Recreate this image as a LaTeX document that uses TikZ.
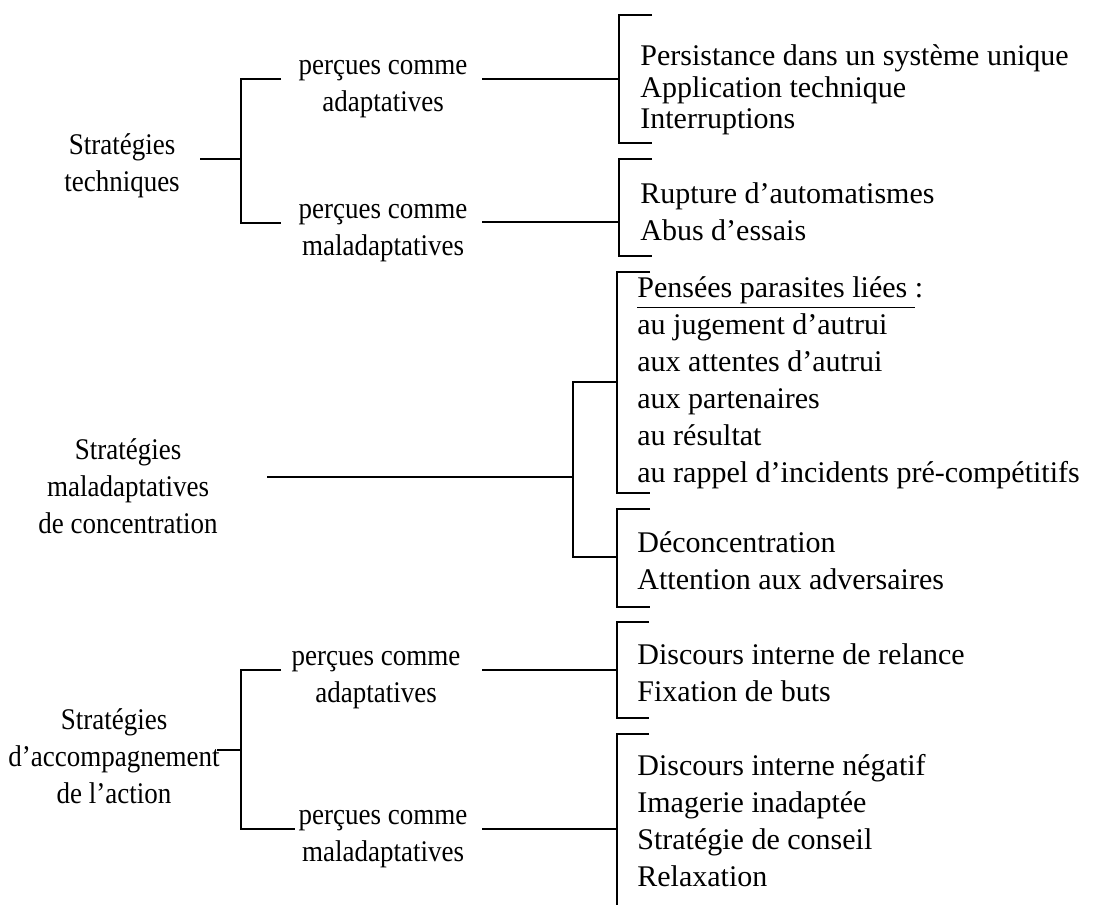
\documentclass[tikz,border=0pt]{standalone}
\usepackage{fontspec}
\setmainfont{Liberation Serif}
\newfontfamily\lblfont{Liberation Serif}[FakeStretch=0.9]

\tikzset{
  ln/.style={line width=0.9pt},
  lbl/.style={align=center, inner sep=0pt, font=\lblfont\fontsize{15}{18.5}\selectfont},
  lst/.style={align=left, anchor=west, inner sep=0pt, font=\fontsize{15}{18.5}\selectfont},
}

\begin{document}
\begin{tikzpicture}[x=0.5pt, y=-0.5pt]
  \useasboundingbox (0,0) rectangle (1106,905);

  % left column
  \node[lbl] (tech) at (122,166) {Stratégies\\techniques};
  \node[lbl] (conc) at (128,486) {Stratégies\\maladaptatives\\de concentration};
  \node[lbl] (accomp) at (114,756) {Stratégies\\d’accompagnement\\de l’action};

  % middle column
  \node[lbl] (techA) at (383,89) {perçues comme\\adaptatives};
  \node[lbl] (techM) at (383,233) {perçues comme\\maladaptatives};
  \node[lbl] (accA) at (376,680) {perçues comme\\adaptatives};
  \node[lbl] (accM) at (383,839) {perçues comme\\maladaptatives};

  % lists
  \node[lst, font=\fontsize{15}{15.75}\selectfont] (lTechA) at (640,90)
    {Persistance dans un système unique\\Application technique\\Interruptions};
  \node[lst] (lTechM) at (640,212) {Rupture d’automatismes\\Abus d’essais};
  \node[lst] (lPens) at (637,383)
    {\underline{Pensées parasites liées\ }:\\au jugement d’autrui\\aux attentes d’autrui\\aux partenaires\\au résultat\\au rappel d’incidents pré-compétitifs};
  \node[lst] (lDeco) at (637,561) {Déconcentration\\Attention aux adversaires};
  \node[lst] (lAccA) at (637,673) {Discours interne de relance\\Fixation de buts};
  \node[lst] (lAccM) at (637,821)
    {Discours interne négatif\\Imagerie inadaptée\\Stratégie de conseil\\Relaxation};

  % techniques
  \coordinate (tS) at (200,159); \coordinate (tF) at (241,159);
  \coordinate (tA) at (281,79);  \coordinate (tM) at (281,223);
  \draw[ln] (tS) -- (tF);
  \draw[ln] (tA) -| (tF) |- (tM);
  \coordinate (aS) at (482,79);  \coordinate (aF) at (619,79);
  \coordinate (aT) at (652,15);  \coordinate (aB) at (652,143);
  \draw[ln] (aS) -- (aF);
  \draw[ln] (aT) -| (aF) |- (aB);
  \coordinate (mS) at (482,222); \coordinate (mF) at (619,222);
  \coordinate (mT) at (652,159); \coordinate (mB) at (652,256);
  \draw[ln] (mS) -- (mF);
  \draw[ln] (mT) -| (mF) |- (mB);

  % concentration
  \coordinate (cS) at (267,477); \coordinate (cF) at (573,477);
  \coordinate (cP) at (617,382); \coordinate (cD) at (617,557);
  \draw[ln] (cS) -- (cF);
  \draw[ln] (cP) -| (cF) |- (cD);
  \coordinate (pT) at (650,272); \coordinate (pB) at (650,493);
  \draw[ln] (pT) -| (cP) |- (pB);
  \coordinate (dT) at (650,509); \coordinate (dB) at (650,607);
  \draw[ln] (dT) -| (cD) |- (dB);

  % accompagnement
  \coordinate (gS) at (217,750); \coordinate (gF) at (241,750);
  \coordinate (gA) at (281,670); \coordinate (gM) at (295,829);
  \draw[ln] (gS) -- (gF);
  \draw[ln] (gA) -| (gF) |- (gM);
  \coordinate (eS) at (482,670); \coordinate (eF) at (617,670);
  \coordinate (eT) at (649,622); \coordinate (eB) at (649,718);
  \draw[ln] (eS) -- (eF);
  \draw[ln] (eT) -| (eF) |- (eB);
  \coordinate (nS) at (482,829); \coordinate (nF) at (617,829);
  \coordinate (nT) at (649,734); \coordinate (nB) at (617,905);
  \draw[ln] (nS) -- (nF);
  \draw[ln] (nT) -| (nF) -- (nB);
\end{tikzpicture}
\end{document}
